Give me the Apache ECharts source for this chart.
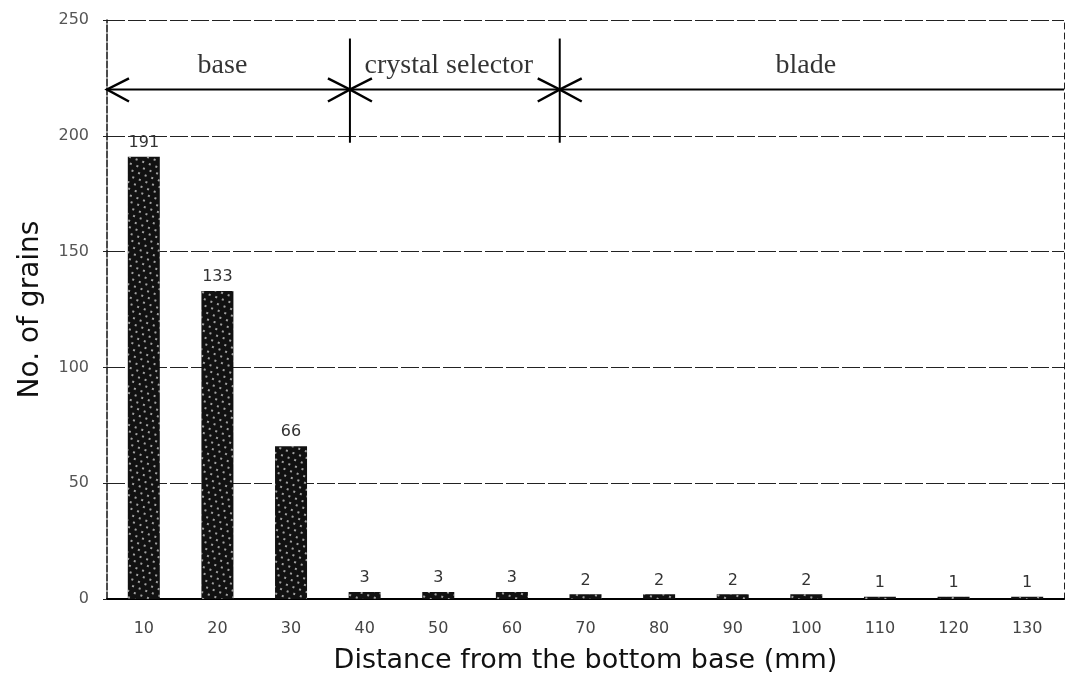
<!DOCTYPE html>
<html>

<head>
    <meta charset="UTF-8">
    <title>No. of grains</title>
    <script src="https://cdn.jsdelivr.net/npm/echarts@6/dist/echarts.min.js"></script>
    <style>
        html, body { margin: 0; padding: 0; background: #fff; }
    </style>
</head>

<body>
    <div id="chart" style="width: 1075px; height: 686px;"></div>

    <script>
        // distance from the bottom base (mm)
        var categories = ['10', '20', '30', '40', '50', '60', '70', '80', '90', '100', '110', '120', '130'];
        var grains = [191, 133, 66, 3, 3, 3, 2, 2, 2, 2, 1, 1, 1];
        var yTicks = [0, 50, 100, 150, 200, 250];

        // zones drawn over the bars, in mm on a hidden value axis
        var zoneNames = ['base', 'crystal selector', 'blade'];
        var zoneEdges = [5, 38, 66.5, 135];
        var spanLevel = 220;
        var markerTop = 242;
        var markerBottom = 197;
        var nameLevel = 231;

        var font = 'DejaVu Sans';

        var myChart = echarts.init(document.getElementById('chart'), null, { renderer: 'canvas' });

        var boundaries = zoneEdges.slice(1, zoneEdges.length - 1);
        var zoneLabels = zoneNames.map(function (n, i) {
            return { name: n, value: [(zoneEdges[i] + zoneEdges[i + 1]) / 2, nameLevel] };
        });

        function chevron(p, dir, style) {
            // dir = -1 points left, +1 points right
            return {
                type: 'polyline',
                shape: { points: [[p[0] - dir * 22, p[1] - 11], p, [p[0] - dir * 22, p[1] + 12]] },
                style: style
            };
        }

        var option = {
            animation: false,
            grid: { left: 107, right: 11, top: 20, bottom: 87 },
            xAxis: [
                {
                    type: 'category',
                    data: categories,
                    name: 'Distance from the bottom base (mm)',
                    nameLocation: 'middle',
                    nameGap: 48,
                    nameTextStyle: { fontFamily: font, fontSize: 27, color: '#111' },
                    axisLine: { lineStyle: { color: '#000', width: 2 } },
                    axisTick: { inside: true, length: 5, lineStyle: { color: '#000' } },
                    axisLabel: { margin: 22, fontFamily: font, fontSize: 16, color: '#444' }
                },
                {
                    type: 'value',
                    min: zoneEdges[0],
                    max: zoneEdges[zoneEdges.length - 1],
                    show: false
                }
            ],
            yAxis: [
                {
                    type: 'value',
                    min: yTicks[0],
                    max: yTicks[yTicks.length - 1],
                    interval: 50,
                    name: 'No. of grains',
                    nameLocation: 'middle',
                    nameGap: 62,
                    nameTextStyle: { fontFamily: font, fontSize: 28, color: '#111' },
                    axisLine: { show: true, lineStyle: { color: '#111', width: 1.5, type: [7, 2] } },
                    axisTick: { show: true, length: 4, lineStyle: { color: '#222' } },
                    axisLabel: { margin: 18, fontFamily: font, fontSize: 16, color: '#555' },
                    splitLine: { lineStyle: { color: '#222', width: 1, type: [18, 3] } }
                },
                {
                    type: 'value',
                    min: yTicks[0],
                    max: yTicks[yTicks.length - 1],
                    position: 'right',
                    axisLine: { show: true, lineStyle: { color: '#222', width: 1, type: [6, 4] } },
                    axisTick: { show: false },
                    axisLabel: { show: false },
                    splitLine: { show: false }
                }
            ],
            series: [
                {
                    name: 'No. of grains',
                    type: 'bar',
                    data: grains,
                    barWidth: 32,
                    itemStyle: {
                        color: '#111',
                        decal: {
                            symbol: 'rect',
                            symbolSize: 1,
                            color: 'rgba(255,255,255,0.6)',
                            dashArrayX: [[1.5, 5], [0, 3, 1.5, 2]],
                            dashArrayY: [1.5, 4],
                            rotation: 0.35
                        }
                    },
                    label: {
                        show: true,
                        position: 'top',
                        distance: 6,
                        fontFamily: font,
                        fontSize: 16,
                        color: '#333'
                    }
                },
                {
                    // span line across the zones
                    type: 'line',
                    xAxisIndex: 1,
                    data: [[zoneEdges[0], spanLevel], [zoneEdges[zoneEdges.length - 1], spanLevel]],
                    symbol: 'none',
                    silent: true,
                    lineStyle: { color: '#000', width: 2 }
                },
                {
                    // left end arrow
                    type: 'custom',
                    xAxisIndex: 1,
                    data: [[zoneEdges[0], spanLevel]],
                    silent: true,
                    renderItem: function (params, api) {
                        var p = api.coord([api.value(0), api.value(1)]);
                        return chevron(p, -1, { stroke: '#000', lineWidth: 2.5, fill: null });
                    }
                },
                {
                    // zone boundaries: vertical marker and two arrow heads
                    type: 'custom',
                    xAxisIndex: 1,
                    data: boundaries.map(function (b) { return [b, spanLevel]; }),
                    silent: true,
                    renderItem: function (params, api) {
                        var x = api.value(0);
                        var p = api.coord([x, api.value(1)]);
                        var top = api.coord([x, markerTop]);
                        var bottom = api.coord([x, markerBottom]);
                        var st = { stroke: '#000', lineWidth: 2.5, fill: null };
                        return {
                            type: 'group',
                            children: [
                                { type: 'line', shape: { x1: top[0], y1: top[1], x2: bottom[0], y2: bottom[1] }, style: { stroke: '#000', lineWidth: 2 } },
                                chevron(p, 1, st),
                                chevron(p, -1, st)
                            ]
                        };
                    }
                },
                {
                    // zone names
                    type: 'scatter',
                    xAxisIndex: 1,
                    data: zoneLabels,
                    symbolSize: 0,
                    silent: true,
                    label: {
                        show: true,
                        position: 'inside',
                        offset: [-6, 2],
                        formatter: '{b}',
                        fontFamily: 'Liberation Serif',
                        fontSize: 28,
                        color: '#000'
                    }
                }
            ]
        };

        myChart.setOption(option);

        window.addEventListener('resize', function () {
            myChart.resize();
        });
    </script>
</body>

</html>
